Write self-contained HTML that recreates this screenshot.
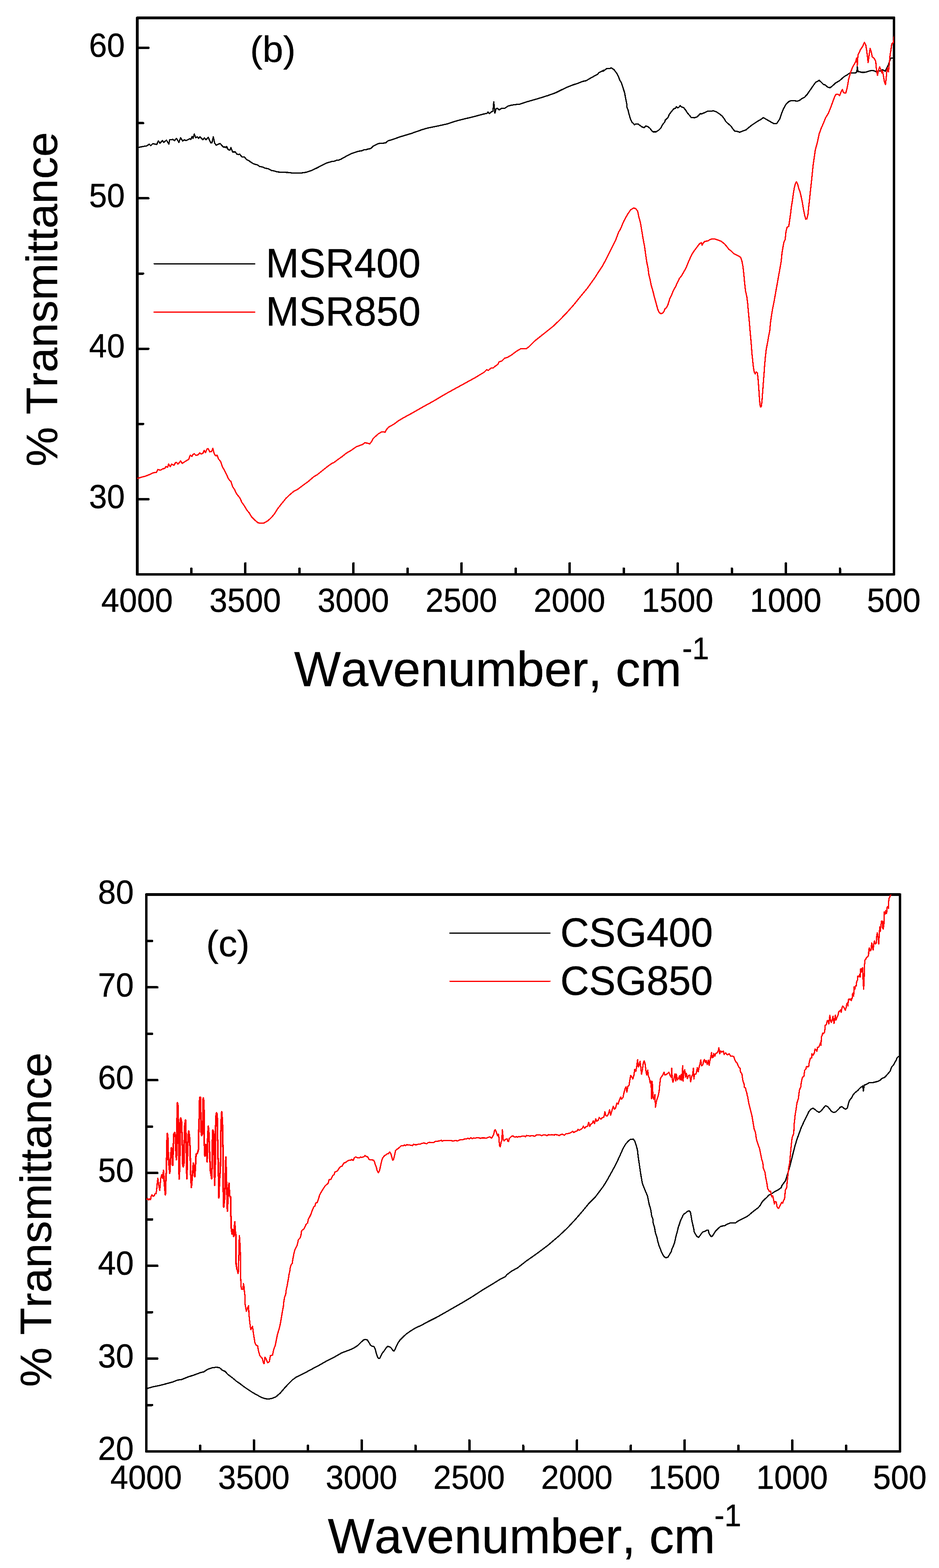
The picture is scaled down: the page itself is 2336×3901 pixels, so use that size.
<!DOCTYPE html>
<html lang="en">
<head>
<meta charset="utf-8">
<title>FTIR spectra</title>
<style>
html,body{margin:0;padding:0;background:#fff;}
body{width:2336px;height:3901px;overflow:hidden;}
svg{display:block;}
path,rect{shape-rendering:crispEdges;}
text{font-family:"Liberation Sans", sans-serif;fill:#000;font-kerning:none;stroke:#000;stroke-width:0.6px;stroke-linejoin:round;}
.tl{font-size:80px;}
.m{text-anchor:middle;}
.e{text-anchor:end;}
.xt{font-size:123px;}
.sup{font-size:75px;}
.yt{font-size:111px;}
.pl{font-size:92.5px;}
.lg{font-size:99px;}
.fr{fill:none;stroke:#000;stroke-width:6.5;stroke-linejoin:round;}
.tk{fill:none;stroke:#000;stroke-width:6;stroke-linecap:round;}
.c{fill:none;stroke-width:3.2;stroke-linejoin:round;stroke-linecap:round;}
.n{stroke-width:4.1;}
.k{stroke:#000;}
.r{stroke:#f00;}
.lk{fill:none;stroke:#000;stroke-width:3;stroke-linecap:round;}
.lr{fill:none;stroke:#f00;stroke-width:3;stroke-linecap:round;}
</style>
</head>
<body>
<svg width="2336" height="3901" viewBox="0 0 2336 3901" role="img" aria-label="FTIR spectra of MSR and CSG samples">
<rect x="0" y="0" width="2336" height="3901" fill="#fff"/>
<g class="plot">
<clipPath id="clip1"><rect x="341.5" y="44.3" width="1882.5" height="1384.7"/></clipPath>
<rect class="fr" x="341.5" y="44.3" width="1882.5" height="1384.7"/>
<path class="tk" d="M476.0 1426V1414.7M610.4 1426V1401.5M744.9 1426V1414.7M879.4 1426V1401.5M1013.8 1426V1414.7M1148.3 1426V1401.5M1282.8 1426V1414.7M1417.2 1426V1401.5M1551.7 1426V1414.7M1686.1 1426V1401.5M1820.6 1426V1414.7M1955.1 1426V1401.5M2089.5 1426V1414.7M344.5 1241.9H369.0M344.5 1054.8H355.8M344.5 867.6H369.0M344.5 680.5H355.8M344.5 493.4H369.0M344.5 306.3H355.8M344.5 119.1H369.0"/>
<g clip-path="url(#clip1)">
<path class="c k" d="M341.6 367.1L344.9 366.6L356.2 364.4L365.6 362.8L371.0 359.0L375.0 362.3L380.4 357.4L389.9 359.6L393.9 350.4L398.0 356.3L404.2 349.9L407.4 354.2L414.1 348.8L420.1 358.5L422.2 347.7L430.3 346.9L434.3 349.9L438.9 344.2L445.1 354.2L449.2 342.9L454.6 350.9L458.6 347.7L462.6 349.9L472.1 345.0L474.8 346.9L478.0 339.6L480.2 344.2L483.4 333.4L486.9 342.9L490.9 340.2L493.6 344.2L497.7 340.2L504.4 347.7L508.5 342.9L512.5 347.7L517.9 341.5L524.6 355.8L527.3 355.0L530.6 340.7L534.1 356.3L538.1 361.2L547.5 356.9L552.9 363.1L557.0 366.6L559.7 365.0L562.4 367.7L563.7 364.4L567.8 372.5L571.8 373.9L574.5 367.1L578.5 377.9L585.3 377.9L589.3 383.3L593.4 384.6L596.1 383.3L601.5 390.0L608.2 390.8L613.6 397.3L619.0 399.5L623.0 402.7L629.8 407.0L635.1 408.9L640.5 410.2L645.9 414.3L654.0 415.6L659.4 418.3L667.5 419.9L675.6 424.3L682.3 425.3L690.4 427.8L701.2 428.6L717.4 429.1L728.1 430.5L740.0 430.5L750.8 430.2L761.6 428.6L775.0 424.3L788.5 417.8L802.0 410.8L810.1 406.5L818.2 403.8L826.3 401.6L831.6 401.1L837.0 398.9L842.4 398.4L847.8 396.2L861.3 388.7L874.8 381.9L890.9 376.5L901.7 374.7L905.8 372.5L912.5 372.0L916.5 370.4L921.9 369.8L928.7 363.3L940.8 357.4L947.5 356.3L952.9 356.3L959.7 355.3L965.1 350.4L974.5 347.7L996.1 340.2L1023.0 332.1L1050.0 322.6L1063.5 318.6L1090.4 313.2L1114.7 307.8L1128.1 303.0L1140.0 299.7L1153.5 296.2L1172.3 291.9L1188.5 287.6L1204.7 283.3L1211.4 282.2L1214.1 278.4L1217.4 282.7L1222.2 278.4L1226.3 276.5L1228.4 253.6L1231.1 281.1L1234.3 270.4L1237.0 269.3L1241.9 273.6L1247.3 269.8L1255.9 269.3L1264.0 263.9L1272.1 261.7L1280.2 260.4L1293.6 259.0L1309.8 253.6L1328.7 248.2L1344.9 243.4L1363.7 237.5L1382.6 230.7L1398.8 222.6L1412.2 216.4L1425.7 211.1L1439.2 206.7L1450.0 202.4L1458.1 200.8L1471.5 193.0L1487.7 184.1L1489.1 181.4L1501.2 174.9L1500.0 177.6L1509.4 170.6L1517.5 170.6L1520.2 168.7L1527.0 172.8L1533.7 181.4L1539.1 191.6L1541.8 199.2L1545.8 205.7L1549.9 218.6L1553.9 230.7L1556.6 245.6L1559.3 259.0L1559.8 267.1L1562.5 273.9L1564.7 283.3L1568.7 296.8L1572.2 304.3L1576.8 308.1L1578.2 310.8L1582.2 308.1L1587.6 308.6L1593.0 312.9L1597.0 315.6L1602.4 317.8L1606.5 313.5L1611.9 315.1L1617.3 319.7L1621.3 325.1L1624.5 328.0L1632.1 328.0L1638.8 323.7L1644.2 318.3L1648.2 310.2L1653.6 303.5L1655.0 298.9L1661.7 292.7L1665.0 284.6L1669.8 278.4L1676.5 270.4L1680.6 269.3L1682.7 265.5L1686.0 268.5L1690.0 265.8L1691.9 262.8L1695.4 266.0L1700.8 267.7L1706.2 274.7L1710.2 281.1L1715.6 287.3L1719.7 292.5L1727.8 293.0L1734.5 290.8L1738.5 286.5L1742.0 282.7L1745.3 283.3L1752.0 280.6L1760.1 276.8L1766.8 276.8L1774.9 275.7L1781.7 277.9L1789.8 283.3L1796.5 288.7L1801.9 295.7L1805.9 302.7L1811.3 307.5L1818.1 313.5L1823.5 321.0L1827.5 325.9L1834.2 327.0L1840.2 329.1L1847.7 325.9L1855.8 323.2L1860.0 319.5L1870.8 310.9L1884.3 302.0L1892.3 297.4L1899.1 292.6L1904.5 295.8L1913.9 301.2L1924.7 307.4L1932.2 307.4L1939.5 296.6L1943.6 284.5L1948.9 271.0L1955.7 258.9L1962.4 252.7L1967.3 250.5L1975.9 250.5L1982.6 251.6L1988.0 250.5L1994.8 245.4L2001.5 241.9L2008.2 234.6L2016.3 223.0L2024.4 211.2L2029.3 204.7L2037.9 199.9L2041.9 203.6L2048.7 210.1L2052.7 211.2L2059.5 217.1L2064.9 218.2L2070.2 214.4L2078.3 206.9L2089.1 200.4L2099.9 190.7L2108.0 186.1L2113.4 182.1L2121.5 181.5L2129.5 181.0L2131.7 178.0L2132.8 166.4L2134.4 178.0L2137.6 178.3L2143.0 179.9L2151.1 179.9L2156.5 178.8L2161.9 176.7L2168.6 175.3L2174.0 176.1L2180.8 178.8L2186.1 176.1L2191.5 176.7L2195.6 173.5L2202.3 177.2L2206.4 168.6L2210.4 160.5L2213.1 152.4L2216.3 144.3L2222.5 144.3"/>
<path class="c r" d="M341.6 1190.4L342.2 1190.2L350.8 1187.5L361.6 1184.8L372.3 1180.5L381.8 1176.1L389.1 1175.3L392.6 1168.1L399.3 1169.9L404.7 1166.4L410.1 1165.4L412.8 1160.5L416.8 1162.7L419.5 1154.6L423.6 1161.1L426.8 1154.6L433.0 1157.8L436.5 1151.1L439.2 1150.3L442.4 1154.6L446.5 1150.3L449.2 1146.5L453.2 1153.0L461.3 1147.6L469.4 1143.0L473.4 1132.2L477.5 1135.7L479.6 1131.4L482.9 1128.7L487.7 1133.0L493.1 1131.4L496.9 1126.8L500.4 1129.5L505.0 1127.6L507.7 1120.6L511.2 1126.0L515.2 1116.8L517.9 1116.0L521.9 1124.1L526.5 1123.3L529.5 1115.2L531.9 1125.5L534.6 1132.2L538.1 1134.1L540.0 1132.2L543.5 1141.6L548.9 1148.4L552.9 1160.5L558.3 1169.9L563.7 1180.7L567.8 1190.2L571.8 1195.6L574.5 1197.7L578.5 1210.4L583.9 1218.5L588.0 1227.9L593.4 1234.6L597.4 1240.0L601.5 1249.5L608.2 1258.9L613.6 1268.3L620.3 1276.4L625.7 1285.8L633.8 1293.9L641.9 1300.7L650.0 1301.8L656.7 1301.2L666.1 1295.8L674.2 1288.5L682.3 1279.1L690.4 1266.2L701.2 1252.2L712.0 1239.2L722.7 1229.2L730.8 1222.5L740.0 1217.7L753.9 1207.4L767.4 1197.4L780.9 1185.8L788.9 1181.3L802.4 1170.5L815.9 1159.7L826.7 1152.2L830.7 1150.8L840.2 1143.5L850.9 1136.0L861.7 1127.4L872.5 1121.2L886.0 1111.7L891.4 1109.6L902.2 1105.8L907.5 1101.5L912.9 1102.3L919.7 1104.2L923.7 1099.6L928.6 1090.7L934.5 1085.3L941.2 1079.4L949.3 1074.5L953.4 1074.5L958.2 1075.3L961.5 1068.6L966.8 1062.7L980.3 1055.1L991.1 1047.0L1004.6 1038.9L1023.5 1028.7L1050.4 1013.3L1077.4 998.5L1100.0 985.0L1113.7 977.1L1147.4 958.6L1181.1 940.1L1204.7 925.9L1210.7 919.9L1214.8 921.5L1221.5 915.8L1226.6 915.8L1231.6 911.4L1238.4 906.4L1241.7 900.3L1248.5 898.0L1255.2 891.2L1261.9 889.5L1272.0 883.5L1285.5 873.4L1295.6 867.6L1309.8 867.3L1315.8 862.6L1329.3 849.1L1346.2 835.6L1359.6 824.9L1376.5 811.4L1393.3 795.2L1410.2 777.7L1427.0 758.8L1443.9 737.9L1460.7 717.7L1477.6 694.1L1480.0 690.8L1488.1 677.9L1498.9 661.7L1509.6 641.5L1520.4 619.9L1531.2 598.4L1539.3 576.8L1543.3 570.6L1551.4 551.2L1560.9 533.7L1568.9 522.1L1575.7 517.8L1581.1 518.3L1586.5 525.6L1589.2 539.1L1593.2 553.9L1596.4 572.8L1599.9 594.3L1603.5 613.2L1606.1 632.1L1608.8 650.9L1612.1 667.1L1614.2 683.3L1617.5 696.8L1620.2 710.2L1624.2 723.7L1628.2 739.9L1632.3 754.7L1636.3 769.5L1640.4 778.2L1644.4 780.3L1648.5 779.0L1652.0 774.4L1653.9 769.0L1657.9 765.5L1661.9 757.4L1666.0 743.9L1670.0 735.8L1675.4 722.4L1680.8 712.9L1684.9 703.5L1690.2 692.7L1695.6 686.0L1701.0 676.5L1706.4 667.1L1711.8 653.6L1717.2 641.5L1722.6 630.7L1728.0 622.6L1733.4 615.4L1740.1 606.5L1744.7 603.8L1746.8 610.0L1749.5 604.6L1753.6 600.3L1760.3 599.7L1765.7 596.5L1771.1 594.3L1779.2 594.9L1787.3 597.6L1794.0 600.3L1802.1 606.5L1807.5 612.7L1812.9 619.9L1818.3 624.0L1825.0 630.7L1831.8 634.0L1837.1 636.9L1842.5 640.2L1846.0 650.9L1848.5 664.4L1850.6 683.3L1852.5 704.9L1854.7 723.7L1857.9 738.5L1860.1 756.1L1861.7 774.9L1863.8 796.5L1865.3 814.7L1867.2 836.3L1869.1 857.8L1870.7 879.4L1872.6 898.2L1874.4 914.4L1876.6 926.5L1878.8 930.1L1881.5 925.2L1884.2 927.9L1886.0 944.1L1887.4 962.9L1888.7 981.8L1890.1 1000.7L1891.4 1011.5L1892.8 1012.8L1894.4 1010.1L1896.0 992.6L1897.6 971.0L1899.2 949.5L1900.9 927.9L1902.2 909.0L1904.1 887.5L1906.3 868.6L1909.5 852.4L1912.2 836.3L1914.9 822.8L1917.0 801.2L1919.7 782.3L1922.4 766.2L1925.7 750.0L1943.5 650.0L1945.3 630.3L1948.0 614.2L1949.9 603.4L1953.4 595.3L1955.3 576.4L1958.0 565.6L1962.3 562.9L1964.2 549.5L1966.9 530.6L1968.8 514.4L1971.5 498.2L1973.6 482.1L1975.8 468.6L1978.5 457.8L1981.2 452.4L1984.4 457.8L1987.1 468.6L1990.4 478.0L1993.9 492.9L1996.5 506.3L1999.2 522.5L2001.9 536.0L2004.6 545.4L2007.3 544.6L2010.0 533.3L2011.9 514.4L2014.1 495.6L2016.2 474.0L2018.7 452.4L2020.8 430.9L2022.7 412.0L2025.4 393.1L2028.1 374.3L2031.6 360.8L2034.3 350.0L2037.9 333.0L2043.3 318.2L2048.7 306.1L2054.1 292.6L2060.8 281.8L2066.2 268.3L2070.2 257.5L2075.6 242.7L2079.7 234.6L2085.1 234.6L2088.6 238.1L2092.3 229.2L2095.8 222.5L2098.5 230.6L2103.9 231.9L2106.6 222.5L2109.3 209.0L2111.2 196.9L2114.7 184.8L2117.4 176.7L2120.1 169.1L2125.5 159.2L2129.5 151.9L2130.9 144.3L2132.8 163.2L2134.4 136.3L2137.6 130.9L2140.3 124.1L2145.7 116.0L2150.6 105.3L2153.8 112.0L2156.5 128.2L2159.7 155.7L2161.9 138.9L2164.6 120.6L2167.3 128.2L2170.0 141.6L2174.0 144.3L2178.6 152.4L2180.2 171.3L2182.9 187.5L2185.6 174.5L2188.3 166.4L2191.5 174.0L2194.2 181.5L2195.6 176.7L2198.3 191.5L2200.2 203.6L2202.9 210.4L2205.0 190.2L2206.4 175.3L2208.2 168.6L2210.4 178.8L2212.6 155.1L2214.4 136.3L2216.3 125.5L2218.5 109.3L2222.5 105.3L2224.4 89.9"/>
</g>
<text class="tl m" transform="translate(341.0 1522.3) scale(1 1.035)">4000</text>
<text class="tl m" transform="translate(609.9 1522.3) scale(1 1.035)">3500</text>
<text class="tl m" transform="translate(878.9 1522.3) scale(1 1.035)">3000</text>
<text class="tl m" transform="translate(1147.8 1522.3) scale(1 1.035)">2500</text>
<text class="tl m" transform="translate(1416.7 1522.3) scale(1 1.035)">2000</text>
<text class="tl m" transform="translate(1685.6 1522.3) scale(1 1.035)">1500</text>
<text class="tl m" transform="translate(1954.6 1522.3) scale(1 1.035)">1000</text>
<text class="tl m" transform="translate(2223.5 1522.3) scale(1 1.035)">500</text>
<text class="tl e" transform="translate(310.5 1263.7) scale(1 1.035)">30</text>
<text class="tl e" transform="translate(310.5 889.4) scale(1 1.035)">40</text>
<text class="tl e" transform="translate(310.5 515.2) scale(1 1.035)">50</text>
<text class="tl e" transform="translate(310.5 140.9) scale(1 1.035)">60</text>
<text class="xt" x="731.8" y="1707.0">Wavenumber, cm</text>
<text class="sup" transform="translate(1697.3 1640.1) scale(1 1.035)">-1</text>
<text class="yt" transform="translate(141.6 1160.8) rotate(-90) scale(1 0.98)">% Transmittance</text>
<text class="pl" transform="translate(622.3 154.0) scale(1 0.98)">(b)</text>
<path class="lk" d="M383.5 656.2H634.0"/>
<path class="lr" d="M383.5 776.4H634.0"/>
<text class="lg" transform="translate(661.2 689.8) scale(1 1.03)">MSR400</text>
<text class="lg" transform="translate(661.2 809.7) scale(1 1.03)">MSR850</text>
</g>
<g class="plot">
<clipPath id="clip2"><rect x="364" y="2225.5" width="1875" height="1385.5"/></clipPath>
<rect class="fr" x="364" y="2225.5" width="1875" height="1385.5"/>
<path class="tk" d="M497.9 3608V3596.7M631.9 3608V3583.5M765.8 3608V3596.7M899.7 3608V3583.5M1033.6 3608V3596.7M1167.6 3608V3583.5M1301.5 3608V3596.7M1435.4 3608V3583.5M1569.4 3608V3596.7M1703.3 3608V3583.5M1837.2 3608V3596.7M1971.1 3608V3583.5M2105.1 3608V3596.7M367 3495.5H378.3M367 3380.1H391.5M367 3264.6H378.3M367 3149.2H391.5M367 3033.7H378.3M367 2918.2H391.5M367 2802.8H378.3M367 2687.3H391.5M367 2571.9H378.3M367 2456.4H391.5M367 2341.0H378.3"/>
<g clip-path="url(#clip2)">
<path class="c k" d="M363.2 3454.9L365.9 3454.3L381.6 3450.0L397.7 3446.8L413.9 3442.5L430.1 3438.1L442.2 3433.3L451.6 3432.2L467.8 3425.7L484.0 3420.4L500.2 3414.4L506.9 3413.1L516.3 3406.9L527.1 3403.1L537.9 3401.5L546.0 3402.6L552.7 3408.5L559.5 3411.7L567.5 3419.8L578.3 3427.9L587.8 3436.0L597.2 3442.5L608.0 3450.8L618.8 3458.1L629.5 3465.1L640.3 3471.0L651.1 3477.0L659.2 3479.6L667.3 3480.7L676.7 3479.1L686.1 3475.3L696.9 3466.2L707.7 3453.5L718.5 3441.9L727.9 3432.7L737.4 3425.7L740.0 3424.9L756.2 3416.8L775.0 3406.6L793.9 3396.6L812.8 3385.8L831.6 3376.4L850.5 3365.6L861.3 3361.6L870.7 3358.1L880.2 3353.8L890.9 3346.8L899.0 3338.7L905.0 3333.3L909.8 3332.2L913.9 3333.8L917.9 3340.0L921.9 3346.8L926.0 3349.5L930.0 3350.0L933.5 3356.2L936.2 3367.0L938.9 3375.1L941.6 3379.6L944.9 3379.1L947.5 3373.7L950.8 3367.0L955.6 3360.8L960.5 3353.5L964.3 3349.5L969.1 3350.8L973.2 3353.5L976.7 3358.9L979.9 3361.3L982.6 3357.5L986.6 3348.1L990.7 3340.0L996.1 3332.7L1004.2 3324.7L1012.2 3317.7L1023.0 3310.4L1033.8 3303.6L1047.3 3297.7L1063.5 3288.8L1085.0 3278.0L1106.6 3265.9L1125.4 3255.1L1139.9 3246.8L1147.0 3242.8L1173.9 3226.6L1200.9 3209.1L1227.8 3192.9L1244.0 3182.7L1257.5 3176.2L1260.2 3171.9L1273.6 3161.9L1287.1 3154.7L1308.7 3137.7L1335.6 3118.8L1362.6 3098.6L1389.5 3075.7L1411.1 3055.5L1430.0 3035.3L1448.8 3013.7L1465.0 2994.0L1475.8 2983.2L1480.0 2979.2L1490.8 2965.0L1501.6 2950.4L1509.6 2937.5L1520.4 2918.1L1531.2 2898.4L1542.0 2875.5L1550.1 2857.1L1556.8 2845.8L1563.6 2838.3L1568.4 2834.5L1575.7 2834.0L1579.2 2839.1L1582.4 2848.5L1585.7 2860.6L1587.8 2878.2L1590.5 2897.0L1593.2 2915.9L1595.9 2932.1L1598.1 2944.2L1602.6 2955.8L1606.7 2965.8L1610.7 2975.2L1613.4 2988.7L1616.1 3000.8L1616.4 3000.0L1619.4 3012.1L1621.4 3026.3L1624.1 3032.3L1624.9 3042.5L1628.5 3054.6L1630.5 3066.7L1634.2 3077.8L1636.6 3088.9L1639.6 3099.1L1642.7 3107.1L1645.7 3115.2L1648.7 3121.3L1652.8 3127.0L1656.8 3129.4L1661.9 3127.4L1664.9 3122.3L1667.9 3117.3L1670.0 3113.2L1672.0 3106.1L1675.0 3100.1L1678.0 3092.0L1680.1 3082.9L1682.1 3073.8L1684.7 3064.7L1687.1 3054.6L1690.2 3045.5L1692.8 3037.4L1696.2 3030.3L1699.3 3023.2L1702.3 3019.8L1705.3 3018.2L1709.4 3014.2L1714.4 3012.5L1717.5 3015.2L1719.5 3026.3L1721.5 3038.4L1723.9 3048.5L1726.0 3057.6L1726.6 3063.7L1729.6 3069.7L1733.6 3075.8L1737.7 3078.4L1741.7 3073.8L1745.8 3067.7L1749.4 3064.3L1753.9 3063.7L1757.9 3060.6L1761.9 3060.2L1763.6 3067.7L1767.0 3073.8L1770.0 3076.8L1773.1 3073.8L1777.1 3067.7L1780.1 3062.7L1786.2 3056.6L1792.3 3051.5L1797.3 3050.1L1802.4 3049.5L1808.4 3046.1L1816.5 3042.5L1829.7 3042.5L1836.7 3037.4L1846.8 3032.3L1857.0 3027.3L1863.0 3023.2L1871.1 3016.2L1878.4 3010.4L1886.5 3004.3L1891.5 2998.3L1896.6 2989.2L1902.7 2983.1L1907.7 2979.1L1911.8 2974.0L1916.8 2971.4L1920.9 2968.9L1926.9 2964.9L1933.0 2961.9L1938.0 2958.8L1943.1 2954.8L1946.1 2948.7L1944.9 2950.0L1954.3 2937.1L1959.7 2919.5L1965.1 2900.7L1969.2 2884.5L1973.2 2868.3L1977.3 2852.2L1982.6 2834.6L1988.0 2819.8L1993.4 2805.0L2000.2 2790.2L2006.9 2776.7L2012.3 2765.4L2017.7 2759.2L2022.3 2757.0L2027.1 2760.0L2032.5 2764.6L2037.9 2767.5L2043.3 2763.2L2048.7 2756.5L2053.5 2751.1L2058.9 2753.0L2063.5 2758.4L2068.9 2765.4L2074.3 2767.8L2079.7 2765.9L2085.1 2760.5L2090.5 2754.6L2094.5 2753.0L2099.9 2757.8L2103.9 2759.4L2108.0 2756.5L2110.7 2745.7L2113.4 2737.6L2118.8 2730.9L2122.8 2723.3L2126.8 2718.7L2133.6 2713.3L2140.3 2706.1L2146.3 2701.8L2147.9 2714.2L2149.8 2699.9L2156.5 2697.2L2163.2 2693.1L2172.7 2693.1L2183.5 2690.4L2190.2 2687.2L2192.9 2683.7L2201.0 2680.2L2207.7 2672.9L2214.4 2664.8L2218.5 2654.0L2222.5 2650.0L2226.1 2643.1L2229.0 2638.6L2232.0 2631.2L2235.7 2628.2L2237.9 2627.5"/>
<path class="c r" d="M361.9 2985.1L363.6 2984.8L367.3 2981.9L370.0 2985.4L372.1 2982.7L374.6 2984.8L375.8 2977.0L378.1 2972.5L381.0 2976.7L384.3 2973.8L385.9 2969.3L388.3 2969.8L389.9 2957.6L391.1 2944.7L392.7 2931.4L394.8 2947.9L397.5 2961.7L399.6 2933.4L402.4 2922.4L404.5 2931.8L406.6 2912.0L408.5 2939.8L411.4 2972.5L412.6 2935.0L414.2 2906.7L415.0 2849.4L416.3 2819.9L417.9 2833.2L418.5 2868.8L420.2 2896.2L422.3 2918.8L423.9 2889.7L426.3 2855.5L428.7 2868.0L429.5 2899.4L431.2 2852.6L432.5 2821.1L434.7 2817.4L436.8 2830.0L437.6 2865.6L438.9 2885.0L440.1 2865.6L440.5 2784.7L441.3 2743.5L442.8 2750.7L443.8 2800.9L444.9 2865.6L445.7 2933.4L447.3 2896.2L448.1 2797.6L449.4 2781.5L451.4 2787.9L452.5 2817.0L453.8 2857.5L454.6 2899.4L456.2 2902.6L457.8 2892.9L459.0 2804.1L461.6 2786.3L462.7 2826.7L463.5 2865.6L464.8 2932.6L465.9 2896.2L468.0 2825.1L469.5 2814.1L471.6 2830.0L473.2 2865.6L474.0 2912.3L476.1 2954.4L478.9 2920.4L481.0 2893.7L482.9 2912.3L484.5 2927.7L486.1 2904.3L487.8 2871.2L491.0 2869.6L493.9 2859.1L494.6 2807.3L495.8 2776.6L496.7 2730.5L498.8 2729.7L499.4 2763.7L500.4 2817.0L501.5 2825.1L503.9 2820.3L504.7 2781.5L505.6 2731.3L507.2 2741.0L508.0 2800.9L508.5 2849.4L509.6 2876.1L512.0 2847.8L514.0 2865.6L515.3 2890.6L516.5 2833.2L518.2 2801.7L520.1 2825.1L520.9 2854.2L522.0 2876.1L523.3 2912.3L526.6 2932.6L528.2 2888.1L528.5 2836.4L529.5 2811.4L531.4 2817.0L532.2 2854.2L533.9 2948.7L535.5 2896.2L536.3 2808.9L537.1 2778.2L538.7 2768.5L540.3 2771.8L541.1 2817.0L542.4 2878.5L543.6 2928.5L544.4 2980.3L546.0 2936.6L548.4 2909.1L549.2 2823.5L550.5 2784.7L551.6 2766.1L553.3 2791.2L554.1 2825.1L554.9 2875.3L555.4 2959.2L556.5 3002.9L558.9 2980.3L560.5 2920.4L561.8 2878.5L563.5 2941.5L564.6 2973.8L565.7 3013.4L567.3 2977.0L568.6 2952.8L569.8 2943.9L571.1 2975.4L573.5 2977.0L574.3 3020.7L575.4 3048.2L575.4 3056.2L577.4 3070.3L579.4 3059.2L581.4 3076.4L582.9 3056.2L584.1 3040.0L584.9 3060.2L586.5 3070.3L586.9 3094.6L587.5 3145.1L589.5 3157.3L592.2 3168.4L593.6 3161.3L594.2 3114.8L595.0 3086.5L595.6 3074.0L596.6 3086.5L597.6 3102.7L598.2 3126.9L598.6 3173.4L599.6 3199.7L601.1 3207.8L604.3 3207.8L605.7 3193.6L607.1 3201.7L608.3 3215.9L609.7 3226.0L609.7 3244.2L611.2 3252.3L612.8 3262.4L615.8 3254.3L618.4 3248.2L619.3 3268.9L620.9 3285.0L622.8 3301.2L624.2 3308.0L626.3 3302.6L628.2 3299.9L630.1 3314.7L632.2 3328.2L634.4 3341.6L637.6 3347.0L640.9 3348.4L643.0 3360.5L646.3 3372.6L649.8 3376.7L652.5 3379.4L655.1 3390.2L657.0 3392.9L659.2 3376.7L661.9 3380.7L665.9 3390.7L670.0 3387.5L672.7 3372.6L678.1 3371.3L680.8 3357.8L684.8 3347.0L687.5 3333.6L690.2 3320.1L694.2 3306.6L697.5 3293.1L700.2 3277.0L702.9 3260.8L705.0 3250.0L705.8 3240.1L707.8 3228.0L710.8 3219.9L712.2 3207.8L714.3 3199.7L715.9 3189.6L717.5 3181.5L718.9 3171.4L720.9 3163.3L721.9 3155.2L724.0 3147.1L727.0 3143.1L728.4 3133.0L730.0 3124.9L731.6 3116.8L733.1 3110.8L735.7 3104.7L739.1 3098.6L741.1 3090.5L742.2 3084.5L746.2 3080.4L748.6 3074.4L750.2 3062.2L752.3 3060.2L756.3 3057.2L759.3 3051.1L761.4 3046.1L764.4 3043.0L765.3 3042.5L767.3 3032.4L770.3 3027.4L773.4 3021.3L776.0 3013.2L778.8 3007.1L780.4 3002.7L783.5 3000.7L785.5 2993.0L789.5 2991.4L792.2 2982.9L795.0 2973.8L798.6 2966.7L802.3 2960.6L805.7 2955.0L809.7 2949.5L813.8 2946.1L816.4 2943.5L818.8 2934.8L823.3 2934.4L826.5 2927.3L827.9 2924.3L831.0 2922.6L833.4 2915.8L837.0 2914.2L840.1 2912.5L843.1 2907.1L847.1 2902.4L851.2 2901.0L855.4 2893.4L859.4 2892.4L863.5 2889.0L867.5 2887.0L872.6 2886.3L874.6 2884.3L878.6 2887.0L881.7 2880.3L884.7 2878.3L888.7 2880.3L894.8 2880.9L896.8 2878.3L899.9 2879.7L902.9 2878.3L905.9 2877.7L908.3 2874.8L911.4 2877.3L915.0 2878.3L917.4 2883.7L921.1 2885.7L925.1 2885.7L929.2 2886.3L931.6 2890.4L933.6 2897.5L936.2 2903.5L938.3 2912.6L941.3 2917.7L943.7 2913.6L945.7 2905.6L947.8 2895.4L949.8 2887.4L951.8 2881.3L954.4 2877.7L957.5 2874.2L960.5 2873.2L962.5 2870.8L965.6 2870.4L969.6 2866.1L972.6 2870.8L974.6 2878.3L976.7 2886.3L978.7 2885.3L980.7 2878.3L982.7 2869.2L984.2 2862.1L987.8 2859.1L990.8 2857.4L994.3 2854.0L997.9 2850.6L1004.0 2850.0L1007.0 2848.5L1009.0 2850.0L1011.6 2847.9L1018.1 2848.5L1022.2 2849.4L1026.2 2850.0L1029.2 2846.9L1032.3 2847.9L1037.3 2847.9L1040.4 2846.5L1046.4 2846.1L1049.4 2844.5L1054.5 2843.7L1058.5 2844.5L1061.6 2845.9L1064.6 2842.9L1068.7 2841.9L1072.7 2842.5L1078.8 2842.5L1082.8 2839.9L1088.9 2839.2L1092.9 2838.4L1098.0 2836.8L1100.0 2839.1L1104.0 2837.1L1112.1 2837.9L1116.2 2837.1L1122.2 2837.1L1126.3 2839.1L1132.3 2837.5L1138.4 2838.3L1144.5 2835.8L1150.5 2835.8L1156.6 2833.4L1160.6 2833.4L1164.3 2831.8L1167.7 2833.4L1171.2 2830.4L1174.8 2833.0L1177.8 2831.0L1180.9 2831.8L1186.9 2830.6L1192.0 2831.0L1195.0 2832.2L1199.1 2831.0L1205.1 2831.0L1210.2 2831.8L1214.2 2829.4L1219.3 2828.6L1222.9 2831.8L1226.3 2826.3L1228.4 2821.3L1230.4 2812.2L1232.4 2810.8L1235.0 2817.3L1237.5 2825.3L1239.9 2821.7L1241.1 2829.4L1241.9 2841.5L1243.1 2850.6L1244.5 2853.2L1246.0 2845.6L1247.2 2839.5L1248.6 2837.5L1249.6 2810.8L1250.8 2821.3L1251.6 2833.4L1254.0 2838.5L1257.7 2834.4L1261.7 2833.4L1263.3 2839.5L1265.4 2839.9L1266.8 2832.4L1269.8 2829.8L1272.8 2827.0L1275.9 2825.7L1278.9 2828.6L1281.9 2829.0L1285.0 2827.8L1288.0 2829.0L1291.0 2827.4L1294.1 2828.4L1297.1 2827.0L1304.2 2826.3L1307.2 2828.2L1310.2 2824.9L1314.3 2825.7L1318.3 2826.3L1324.4 2825.3L1330.5 2827.0L1334.5 2823.7L1342.6 2823.3L1347.6 2825.3L1351.7 2823.7L1356.7 2823.7L1360.8 2825.3L1364.8 2822.9L1368.9 2823.7L1372.9 2822.9L1379.0 2824.1L1380.0 2822.6L1386.1 2823.2L1391.1 2825.2L1395.2 2822.6L1399.2 2821.8L1404.3 2824.2L1408.3 2820.5L1413.4 2820.1L1417.4 2819.1L1420.4 2817.7L1424.5 2814.5L1427.5 2817.7L1431.5 2815.1L1435.6 2813.7L1438.2 2809.6L1440.6 2812.0L1444.7 2810.0L1448.7 2807.0L1451.2 2801.9L1454.4 2807.0L1457.8 2803.0L1461.9 2801.9L1464.5 2792.2L1467.3 2802.3L1470.0 2796.9L1474.0 2793.9L1476.0 2788.2L1479.1 2795.5L1482.1 2783.7L1484.7 2789.8L1488.2 2786.8L1490.8 2780.1L1494.8 2784.2L1498.3 2780.7L1502.3 2779.3L1504.9 2766.0L1507.4 2775.7L1510.4 2776.7L1513.4 2771.6L1516.5 2761.1L1519.1 2774.6L1521.9 2764.5L1525.6 2752.4L1528.6 2759.5L1531.6 2756.5L1534.6 2744.3L1537.7 2747.0L1540.7 2737.3L1544.2 2729.2L1546.2 2734.8L1549.8 2730.2L1552.2 2719.1L1554.9 2708.9L1557.5 2703.9L1559.5 2717.0L1561.9 2702.9L1565.0 2699.9L1567.0 2686.7L1569.0 2675.6L1572.0 2679.6L1574.5 2684.3L1577.1 2674.6L1579.1 2660.4L1581.8 2665.5L1583.8 2654.4L1586.2 2636.2L1588.2 2654.4L1590.2 2650.3L1592.3 2640.2L1594.3 2656.4L1595.9 2672.6L1598.3 2660.4L1600.4 2644.3L1602.4 2639.2L1604.8 2646.3L1606.8 2662.5L1608.8 2674.6L1611.5 2662.5L1612.9 2676.6L1615.5 2682.7L1617.5 2694.8L1619.6 2689.7L1621.0 2733.2L1622.6 2690.8L1624.6 2729.2L1626.6 2735.2L1629.1 2723.1L1630.7 2754.4L1632.7 2741.3L1635.1 2733.2L1637.7 2725.1L1639.8 2715.0L1641.2 2698.8L1643.2 2682.7L1645.8 2678.6L1648.9 2674.6L1651.9 2667.5L1653.9 2674.6L1658.0 2673.0L1661.0 2670.5L1664.0 2667.5L1667.1 2675.6L1670.1 2680.6L1671.1 2657.3L1672.5 2685.6L1674.2 2692.6L1676.6 2683.5L1679.2 2671.4L1681.2 2689.6L1682.6 2672.4L1685.3 2686.6L1687.9 2683.5L1690.3 2676.5L1691.9 2686.6L1694.4 2673.4L1696.0 2687.6L1698.4 2651.2L1699.4 2689.6L1701.4 2665.3L1703.5 2661.3L1705.5 2679.5L1707.5 2670.4L1710.1 2683.5L1713.0 2675.4L1716.2 2675.0L1718.2 2691.6L1720.6 2678.5L1723.1 2673.4L1725.1 2657.3L1726.3 2684.5L1727.7 2672.4L1731.2 2672.4L1733.2 2665.3L1734.8 2656.2L1737.2 2666.3L1739.2 2655.2L1741.3 2647.1L1743.3 2637.0L1745.3 2651.6L1748.5 2649.2L1750.6 2639.1L1752.6 2636.0L1755.0 2643.1L1757.0 2638.7L1759.5 2648.2L1762.1 2638.0L1764.1 2650.2L1766.1 2639.1L1768.2 2630.0L1770.2 2618.8L1771.6 2631.4L1774.2 2630.0L1775.6 2620.9L1778.3 2627.9L1780.3 2621.3L1784.3 2619.2L1787.0 2613.8L1788.4 2606.7L1790.4 2621.9L1793.0 2614.4L1795.8 2617.8L1799.5 2614.8L1801.5 2623.3L1805.1 2619.2L1808.6 2623.9L1811.2 2623.9L1814.0 2621.3L1817.7 2627.9L1821.7 2627.3L1825.4 2628.5L1827.4 2635.0L1830.8 2642.1L1833.5 2644.1L1835.9 2650.2L1838.3 2655.2L1840.9 2657.3L1842.3 2667.4L1845.6 2671.0L1847.0 2681.5L1848.4 2689.6L1851.0 2696.7L1852.0 2705.8L1854.5 2706.2L1856.1 2713.9L1857.7 2718.3L1859.1 2726.0L1860.0 2728.2L1862.7 2744.3L1866.7 2760.5L1870.8 2776.7L1873.5 2792.9L1876.2 2809.0L1879.4 2817.1L1881.6 2833.3L1885.6 2846.8L1889.6 2857.5L1892.3 2871.0L1895.0 2884.5L1897.7 2892.6L1899.0 2906.3L1903.1 2916.4L1905.1 2930.5L1907.7 2942.7L1909.7 2956.8L1913.8 2963.9L1917.2 2963.9L1919.2 2975.0L1920.9 2978.0L1922.5 2975.0L1924.5 2985.1L1926.5 2995.2L1928.5 2989.2L1931.0 2990.2L1933.0 3001.3L1934.6 3004.9L1937.0 3006.3L1939.1 3002.3L1942.1 2996.2L1944.7 2991.2L1947.1 2993.2L1949.2 2987.1L1951.6 2983.1L1952.8 2973.0L1953.6 2960.9L1956.8 2955.8L1958.3 2940.6L1959.2 2933.0L1961.9 2906.1L1964.6 2892.6L1966.5 2871.0L1968.4 2849.5L1970.5 2830.6L1974.6 2819.8L1975.9 2795.6L1978.1 2774.0L1980.8 2757.8L1982.6 2744.3L1986.1 2733.6L1988.8 2712.0L1992.1 2703.9L1993.4 2693.1L1996.1 2681.0L2000.2 2677.0L2001.5 2663.5L2005.6 2658.1L2005.3 2657.5L2006.4 2653.2L2009.6 2654.3L2012.3 2652.1L2012.8 2645.7L2014.4 2638.1L2016.1 2632.7L2019.3 2631.6L2019.8 2621.9L2022.5 2625.7L2024.7 2621.9L2026.3 2617.6L2027.4 2610.1L2030.1 2611.2L2032.2 2615.5L2033.9 2605.8L2036.5 2605.8L2039.2 2600.4L2040.9 2595.0L2042.5 2600.4L2043.0 2590.7L2043.6 2578.8L2045.7 2575.6L2046.3 2570.2L2048.9 2571.3L2051.6 2567.0L2053.0 2550.4L2055.6 2549.7L2057.8 2540.0L2060.0 2538.5L2061.9 2547.4L2063.4 2536.3L2064.5 2525.9L2066.4 2540.0L2068.2 2543.7L2070.4 2537.1L2072.3 2528.2L2074.8 2546.0L2076.8 2535.6L2078.2 2525.9L2079.7 2537.8L2082.3 2531.1L2084.5 2526.7L2086.7 2517.0L2089.7 2514.8L2091.1 2512.6L2092.6 2518.5L2094.6 2507.4L2096.3 2503.0L2099.3 2505.9L2103.0 2513.3L2105.2 2505.9L2106.4 2498.2L2107.9 2495.3L2109.4 2502.7L2110.4 2487.9L2112.6 2484.9L2114.9 2487.9L2117.1 2484.2L2117.8 2489.4L2120.1 2482.7L2120.8 2473.0L2122.7 2470.1L2123.8 2478.2L2124.5 2455.3L2126.7 2461.2L2128.2 2452.3L2130.1 2453.0L2131.2 2441.9L2133.4 2437.5L2134.1 2428.6L2137.1 2430.1L2138.6 2424.1L2140.5 2430.8L2141.1 2410.0L2143.0 2418.9L2144.5 2409.3L2146.4 2407.8L2147.0 2434.5L2148.5 2461.2L2149.7 2438.9L2150.4 2409.3L2150.9 2398.9L2151.9 2388.5L2154.2 2385.6L2155.6 2381.9L2158.6 2380.4L2160.8 2376.7L2161.3 2364.1L2162.7 2358.2L2164.5 2365.6L2166.8 2364.1L2167.8 2354.4L2168.7 2346.0L2170.5 2355.7L2172.2 2363.1L2174.2 2346.0L2175.6 2340.8L2177.9 2348.2L2180.1 2346.0L2181.1 2329.0L2182.6 2320.8L2184.5 2333.4L2186.0 2348.2L2187.1 2330.5L2188.0 2317.1L2188.5 2306.0L2190.0 2317.1L2191.5 2302.3L2193.0 2291.2L2194.9 2291.9L2195.4 2308.2L2197.4 2311.2L2198.9 2299.3L2199.4 2280.1L2200.1 2268.2L2201.9 2274.1L2203.8 2265.2L2205.7 2272.6L2207.2 2256.3L2209.0 2255.6L2210.2 2260.0L2210.8 2243.0L2211.7 2234.8L2213.7 2231.9L2214.9 2227.4L2216.4 2225.9"/>
<path class="c r n" d="M406.6 2912.0L408.5 2939.8L411.4 2972.5L412.6 2935.0L414.2 2906.7L415.0 2849.4L416.3 2819.9L417.9 2833.2L418.5 2868.8L420.2 2896.2L422.3 2918.8L423.9 2889.7L426.3 2855.5L428.7 2868.0L429.5 2899.4L431.2 2852.6L432.5 2821.1L434.7 2817.4L436.8 2830.0L437.6 2865.6L438.9 2885.0L440.1 2865.6L440.5 2784.7L441.3 2743.5L442.8 2750.7L443.8 2800.9L444.9 2865.6L445.7 2933.4L447.3 2896.2L448.1 2797.6L449.4 2781.5L451.4 2787.9L452.5 2817.0L453.8 2857.5L454.6 2899.4L456.2 2902.6L457.8 2892.9L459.0 2804.1L461.6 2786.3L462.7 2826.7L463.5 2865.6L464.8 2932.6L465.9 2896.2L468.0 2825.1L469.5 2814.1L471.6 2830.0L473.2 2865.6L474.0 2912.3L476.1 2954.4L478.9 2920.4L481.0 2893.7L482.9 2912.3L484.5 2927.7L486.1 2904.3L487.8 2871.2L491.0 2869.6L493.9 2859.1L494.6 2807.3L495.8 2776.6L496.7 2730.5L498.8 2729.7L499.4 2763.7L500.4 2817.0L501.5 2825.1L503.9 2820.3L504.7 2781.5L505.6 2731.3L507.2 2741.0L508.0 2800.9L508.5 2849.4L509.6 2876.1L512.0 2847.8L514.0 2865.6L515.3 2890.6L516.5 2833.2L518.2 2801.7L520.1 2825.1L520.9 2854.2L522.0 2876.1L523.3 2912.3L526.6 2932.6L528.2 2888.1L528.5 2836.4L529.5 2811.4L531.4 2817.0L532.2 2854.2L533.9 2948.7L535.5 2896.2L536.3 2808.9L537.1 2778.2L538.7 2768.5L540.3 2771.8L541.1 2817.0L542.4 2878.5L543.6 2928.5L544.4 2980.3L546.0 2936.6L548.4 2909.1L549.2 2823.5L550.5 2784.7L551.6 2766.1L553.3 2791.2L554.1 2825.1L554.9 2875.3L555.4 2959.2L556.5 3002.9L558.9 2980.3L560.5 2920.4L561.8 2878.5L563.5 2941.5L564.6 2973.8L565.7 3013.4L567.3 2977.0L568.6 2952.8L569.8 2943.9L571.1 2975.4L573.5 2977.0L574.3 3020.7L575.4 3048.2L575.4 3056.2L577.4 3070.3L579.4 3059.2L581.4 3076.4L582.9 3056.2L584.1 3040.0L584.9 3060.2L586.5 3070.3L586.9 3094.6L587.5 3145.1L589.5 3157.3"/>
</g>
<text class="tl m" transform="translate(363.5 3704.3) scale(1 1.035)">4000</text>
<text class="tl m" transform="translate(631.4 3704.3) scale(1 1.035)">3500</text>
<text class="tl m" transform="translate(899.2 3704.3) scale(1 1.035)">3000</text>
<text class="tl m" transform="translate(1167.1 3704.3) scale(1 1.035)">2500</text>
<text class="tl m" transform="translate(1434.9 3704.3) scale(1 1.035)">2000</text>
<text class="tl m" transform="translate(1702.8 3704.3) scale(1 1.035)">1500</text>
<text class="tl m" transform="translate(1970.6 3704.3) scale(1 1.035)">1000</text>
<text class="tl m" transform="translate(2238.5 3704.3) scale(1 1.035)">500</text>
<text class="tl e" transform="translate(332.8 3632.3) scale(1 1.035)">20</text>
<text class="tl e" transform="translate(332.8 3401.6) scale(1 1.035)">30</text>
<text class="tl e" transform="translate(332.8 3170.9) scale(1 1.035)">40</text>
<text class="tl e" transform="translate(332.8 2940.2) scale(1 1.035)">50</text>
<text class="tl e" transform="translate(332.8 2709.4) scale(1 1.035)">60</text>
<text class="tl e" transform="translate(332.8 2478.7) scale(1 1.035)">70</text>
<text class="tl e" transform="translate(332.8 2248.0) scale(1 1.035)">80</text>
<text class="xt" x="815.5" y="3863.7">Wavenumber, cm</text>
<text class="sup" transform="translate(1777.3 3796.8) scale(1 1.035)">-1</text>
<text class="yt" transform="translate(127.0 3450.8) rotate(-90) scale(1 0.98)">% Transmittance</text>
<text class="pl" transform="translate(513.0 2379.0) scale(1 0.98)">(c)</text>
<path class="lk" d="M1119.0 2321.3H1368.2"/>
<path class="lr" d="M1119.0 2441H1368.2"/>
<text class="lg" transform="translate(1394.0 2354.5) scale(1 1.03)">CSG400</text>
<text class="lg" transform="translate(1394.0 2474.5) scale(1 1.03)">CSG850</text>
</g>
</svg>
</body>
</html>
